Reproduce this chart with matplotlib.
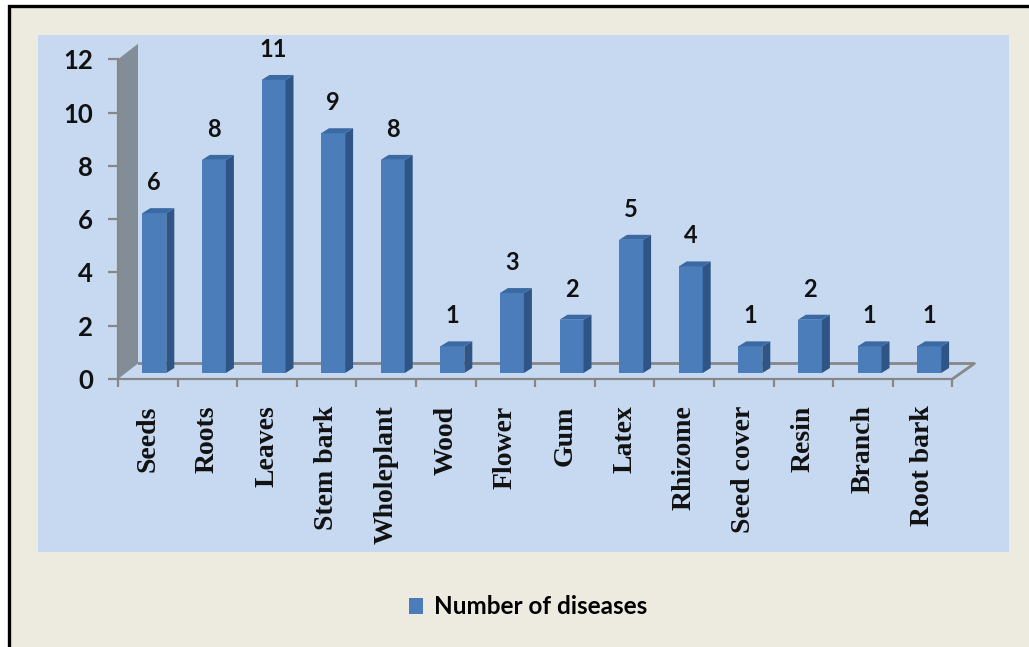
import matplotlib
matplotlib.use("Agg")
import matplotlib.pyplot as plt
from matplotlib.patches import Polygon, Rectangle
import numpy as np

# Plant parts and the number of diseases each one is used against
categories = ["Seeds", "Roots", "Leaves", "Stem bark", "Wholeplant", "Wood", "Flower",
              "Gum", "Latex", "Rhizome", "Seed cover", "Resin", "Branch", "Root bark"]
diseases = [6, 8, 11, 9, 8, 1, 3, 2, 5, 4, 1, 2, 1, 1]
y_ticks = [0, 2, 4, 6, 8, 10, 12]
series_name = "Number of diseases"

W, H = 1029, 647
fig = plt.figure(figsize=(W / 100, H / 100), dpi=100)
fig.patch.set_facecolor("white")

# page frame
fig.patches.append(Rectangle((9 / W, -0.05), 1.1, 1 - 5.5 / H + 0.05,
                             transform=fig.transFigure, facecolor="#EDEBE0",
                             edgecolor="black", linewidth=2.4, zorder=-5))

# plot area in pixels
px_l, px_r, px_t, px_b = 38, 1009, 35, 552
ax = fig.add_axes([px_l / W, 1 - px_b / H, (px_r - px_l) / W, (px_b - px_t) / H])
ax.set_zorder(1)
ax.set_facecolor("#C6D9F0")

n = len(categories)
ppx = 59.6      # pixels per category
ppy = 26.64     # pixels per unit
x0_px, y0_px = 118, 379
ax.set_xlim(-0.5 - (x0_px - px_l) / ppx, n - 0.5 + (px_r - (x0_px + n * ppx)) / ppx)
ax.set_ylim(-(px_b - y0_px) / ppy, 12 + (y0_px - 12 * ppy - px_t) / ppy)

# 3-D depth of the wall/floor and of the bars (data units)
dep_x, dep_y = 20 / ppx, 15.5 / ppy
bar_dx, bar_dy = 6.5 / ppx, 6 / ppy
side_dx, side_dy = 8 / ppx, 5 / ppy
bar_w = 24 / ppx

grey = "#878787"
# side wall
ax.add_patch(Polygon([(-0.5, 0), (-0.5, 12), (-0.5 + dep_x, 12 + dep_y), (-0.5 + dep_x, dep_y)],
                     closed=True, facecolor="#838D98", edgecolor="none", zorder=1))
# floor outline
ax.plot([-0.5 + dep_x, n - 0.5 + dep_x * 1.1, n - 0.5], [dep_y, dep_y, 0],
        color=grey, linewidth=2, zorder=1, solid_capstyle="butt")

x = np.arange(n)
vals = np.array(diseases, dtype=float)
front = "#4A7DBA"
side = "#2E5586"
top = "#3A69A3"
bars = ax.bar(x + bar_dx, vals, width=bar_w, bottom=bar_dy, color=front,
              edgecolor="none", zorder=3, label=series_name)
for xi, v in zip(x, vals):
    xl = xi + bar_dx - bar_w / 2
    xr = xi + bar_dx + bar_w / 2
    yb = bar_dy
    yt = bar_dy + v
    ax.add_patch(Polygon([(xr, yb), (xr + side_dx, yb + side_dy), (xr + side_dx, yt + side_dy), (xr, yt)],
                         closed=True, facecolor=side, edgecolor="none", zorder=3))
    ax.add_patch(Polygon([(xl, yt), (xr, yt), (xr + side_dx, yt + side_dy), (xl + side_dx, yt + side_dy)],
                         closed=True, facecolor=top, edgecolor="none", zorder=3))
    ax.text(xi + bar_dx, yt + 1.15, f"{int(v)}", ha="center", va="center",
            fontsize=17, fontweight="bold", family="Lato", color="#111111", zorder=4)

# axes lines positioned on the front edges
for s in ["top", "right"]:
    ax.spines[s].set_visible(False)
ax.spines["left"].set_position(("data", -0.5))
ax.spines["left"].set_bounds(0, 12)
ax.spines["bottom"].set_position(("data", 0))
ax.spines["bottom"].set_bounds(-0.5, n - 0.5)
for s in ["left", "bottom"]:
    ax.spines[s].set_color(grey)
    ax.spines[s].set_linewidth(1.6)
    ax.spines[s].set_zorder(2)

ax.set_yticks(y_ticks)
ax.set_yticklabels([str(t) for t in y_ticks], fontsize=18.5, fontweight="bold",
                   family="Lato", color="#111111")
ax.tick_params(axis="y", direction="out", length=7, width=1.6, color=grey, pad=11)

ax.set_xticks(x)
ax.set_xticklabels(categories, rotation=90, fontsize=20, fontweight="bold",
                   family="Liberation Serif", color="#111111", va="top")
ax.set_xticks(np.arange(-0.5, n, 1.0), minor=True)
ax.tick_params(axis="x", which="major", length=0, pad=19)
ax.tick_params(axis="x", which="minor", direction="out", length=6, width=1.6, color=grey)

fig.legend(handles=[bars], labels=[series_name], loc="center",
           bbox_to_anchor=(528 / W, 1 - 607 / H), frameon=False,
           prop={"family": "Lato", "weight": "bold", "size": 17.5},
           handlelength=0.6, handleheight=0.6, handletextpad=0.45)

fig.savefig("out.png", dpi=100)
